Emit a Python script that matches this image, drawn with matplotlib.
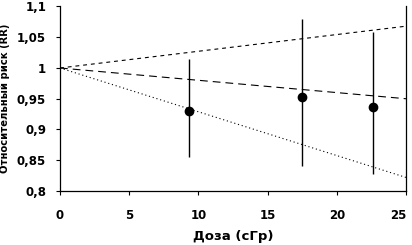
import matplotlib
matplotlib.use("Agg")
import matplotlib.pyplot as plt

# dose groups (cGy) and relative risk with 95% CI
dose = [9.3, 17.5, 22.6]
rr = [0.930, 0.953, 0.937]
rr_low = [0.855, 0.840, 0.828]
rr_high = [1.014, 1.079, 1.058]

# fitted trend lines: value at dose 0 and at dose 25
line_x = [0, 25]
upper_line = [1.0, 1.068]
mid_line = [1.0, 0.950]
lower_line = [1.0, 0.822]

plt.rcParams["font.family"] = ["DejaVu Sans"]
plt.rcParams["font.weight"] = "bold"

fig = plt.figure(figsize=(4.12, 2.45), dpi=100)
ax = fig.add_axes([0.1456, 0.2204, 0.84, 0.7531])

ax.plot(line_x, upper_line, color="black", lw=0.8, dashes=(3.5, 3.5))
ax.plot(line_x, mid_line, color="black", lw=0.8, dashes=(7, 4.5))
ax.plot(line_x, lower_line, color="black", lw=0.8, dashes=(1, 2.5))

yerr = [[r - lo for r, lo in zip(rr, rr_low)], [hi - r for r, hi in zip(rr, rr_high)]]
ax.errorbar(dose, rr, yerr=yerr, fmt="o", color="black", ms=6, elinewidth=1.0, capsize=0)

ax.set_xlim(0, 25)
ax.set_ylim(0.8, 1.1)
ax.set_xticks([0, 5, 10, 15, 20, 25])
ax.set_yticks([0.8, 0.85, 0.9, 0.95, 1.0, 1.05, 1.1])
ax.set_yticklabels(["0,8", "0,85", "0,9", "0,95", "1", "1,05", "1,1"])
ax.tick_params(labelsize=8.5, length=3, width=0.8)
ax.tick_params(axis="x", pad=10)
ax.tick_params(axis="y", pad=7)
ax.spines["top"].set_visible(False)
for s in ["left", "bottom", "right"]:
    ax.spines[s].set_linewidth(0.9)
# keep the last label inside the figure
ax.get_xticklabels()[-1].set_horizontalalignment("right")

ax.set_xlabel("Доза (сГр)", fontsize=9.5, fontweight="bold", labelpad=6)
ax.set_ylabel("Относительный риск (RR)", fontsize=7.2, fontweight="bold", labelpad=5)

fig.savefig("out.png", dpi=100)
